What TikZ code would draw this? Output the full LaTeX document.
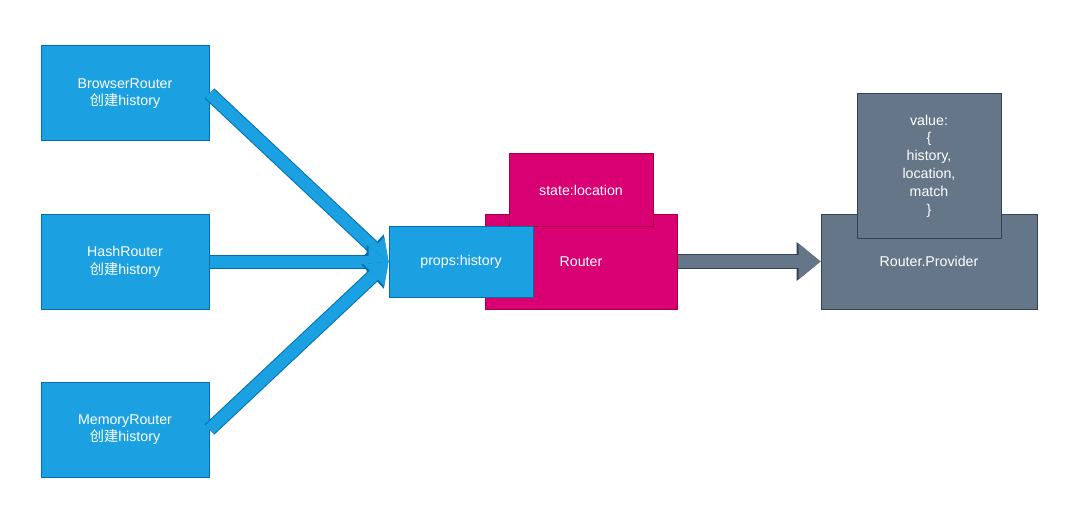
\documentclass[tikz,border=0pt]{standalone}
\usepackage{fontspec}
\setmainfont{Liberation Sans}
\newfontfamily\cjk{Noto Sans CJK SC}
\usepackage{xcolor}
\usetikzlibrary{arrows.meta}

\definecolor{blueFill}{HTML}{1BA1E2}
\definecolor{blueLine}{HTML}{006EAF}
\definecolor{pinkFill}{HTML}{D80073}
\definecolor{pinkLine}{HTML}{A50040}
\definecolor{greyFill}{HTML}{647687}
\definecolor{greyLine}{HTML}{314354}

\begin{document}
\begin{tikzpicture}[x=1pt,y=-1pt,
		box/.style={draw, line width=1pt, text=white, align=center, inner sep=0pt,
			font=\fontsize{14.2}{17.8}\selectfont},
		bluebox/.style={box, fill=blueFill, draw=blueLine},
		pinkbox/.style={box, fill=pinkFill, draw=pinkLine},
		greybox/.style={box, fill=greyFill, draw=greyLine},
		bluearrow/.style={draw=blueFill, line width=12pt,
			-{Triangle[length=20pt,width=30pt,line width=0pt]},
			preaction={draw=blueLine, line width=14pt,
				-{Triangle[length=22pt,width=33pt,line width=0pt]}}},
		greyarrow/.style={draw=greyFill, line width=13pt,
			-{Triangle[length=22pt,width=36pt,line width=0pt]},
			preaction={draw=greyLine, line width=15pt,
				-{Triangle[length=24pt,width=39pt,line width=0pt]}}}]
	\useasboundingbox (0,0) rectangle (1085,524);

	% the three routers
	\node[bluebox, minimum width=168pt, minimum height=95pt] (browser) at (125,93.5) {BrowserRouter\\{\cjk 创建}history};
	\node[bluebox, minimum width=168pt, minimum height=95pt] (hash) at (125,261.5) {HashRouter\\{\cjk 创建}history};
	\node[bluebox, minimum width=168pt, minimum height=95pt] (memory) at (125,429.5) {MemoryRouter\\{\cjk 创建}history};

	% Router
	\node[pinkbox, minimum width=192pt, minimum height=95pt] (router) at (581,261.5) {Router};
	\node[pinkbox, minimum width=144pt, minimum height=72pt] (state) at (581,190) {state:location};
	\node[bluebox, minimum width=144pt, minimum height=71pt] (props) at (461,261.5) {props:history};

	% Provider
	\node[greybox, minimum width=216pt, minimum height=95pt] (provider) at (929,261.5) {Router.Provider};
	\node[greybox, minimum width=144pt, minimum height=144pt] (value) at (929,166) {value:\\\{\\history,\\location,\\match\\\}};

	\draw[bluearrow] (browser.east) -- (props.west);
	\draw[bluearrow] (hash.east) -- (props.west);
	\draw[bluearrow] (memory.east) -- (props.west);
	\draw[greyarrow] (router.east) -- (provider.west);
\end{tikzpicture}
\end{document}
